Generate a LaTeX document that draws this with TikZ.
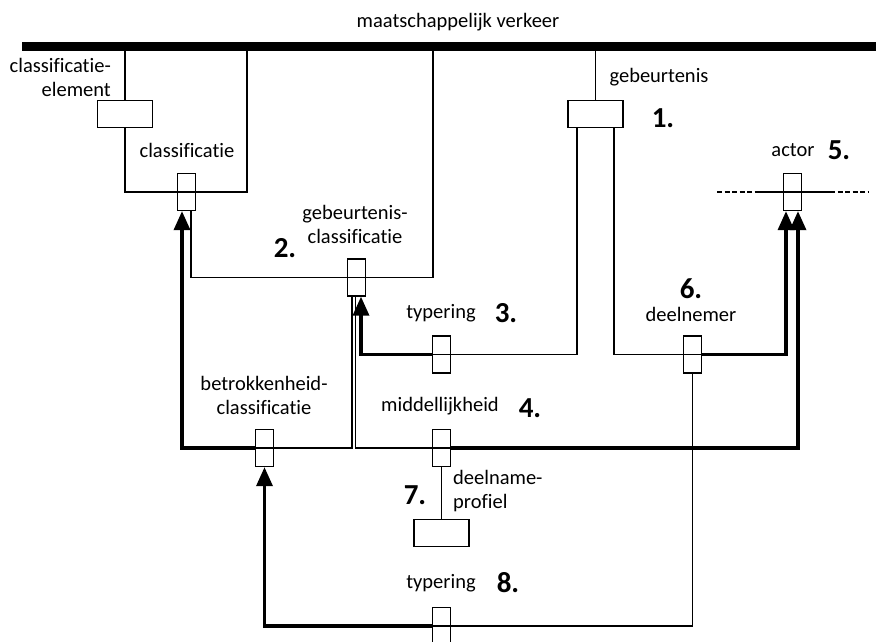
\documentclass[tikz,border=0pt]{standalone}
\usepackage{fontspec}
\setmainfont{Carlito}[Ligatures=NoCommon]
\usetikzlibrary{arrows.meta}

\begin{document}
\begin{tikzpicture}  % ------ maatschappelijk verkeer ------------------
    [x=1pt,y=-1pt,
     vbox/.style={draw, line width=1.3pt, minimum width=18.5pt, minimum height=37pt, inner sep=0pt},
     hbox/.style={draw, fill=white, line width=1.3pt, minimum width=55pt, minimum height=27pt, inner sep=0pt},
     lbl/.style={font=\fontsize{20.5}{24}\selectfont, inner sep=0pt, align=center},
     nr/.style={font=\fontsize{29}{30}\selectfont\bfseries, inner sep=0pt},
     dun/.style={line width=1.3pt},
     dik/.style={line width=3.4pt, -{Triangle[length=19pt,width=16pt]}}]
    \useasboundingbox (0,0) rectangle (876,641);
    \coordinate (barL) at (22,46.5);
    \coordinate (barR) at (876,46.5);
    \coordinate (clR) at (247,46.5);
    \coordinate (gcR) at (433,46.5);
    % boxes
    \node [hbox] (cel) at (125,114) {};
    \node [vbox] (cla) at (186.5,192) {};
    \node [hbox] (geb) at (595.5,114) {};
    \node [vbox] (act) at (792.5,192) {};
    \node [vbox] (gcl) at (356.5,277.5) {};
    \node [vbox] (typa) at (441.5,354.5) {};
    \node [vbox] (dln) at (692.5,354.5) {};
    \node [vbox] (bcl) at (264.5,448) {};
    \node [vbox] (mid) at (441.5,448) {};
    \node [hbox] (dpr) at (441.5,533) {};
    \node [vbox] (typb) at (441.5,626) {};
    % thin lines
    \draw [dun] (cel.north |- barL) -- (cel.north);
    \draw [dun] (cel.south) |- (cla.center) -| (clR);
    \draw [dun] (gcR) |- (gcl.center) -| ([xshift=4.5pt]cla.south);
    \draw [dun] (geb.north |- barL) -- (geb.north);
    \draw [dun] ([xshift=-18.5pt]geb.south) |- (typa.west);
    \draw [dun] ([xshift=18.5pt]geb.south) |- (dln.east);
    \draw [dun] (dln.south) |- (typb.west);
    \draw [dun] (bcl.west) -| ([xshift=-4.5pt]gcl.south);
    \draw [dun] (mid.east) -| ([xshift=-1pt]gcl.south);
    \draw [dun] (mid.south) -- (dpr.north);
    \coordinate (aL) at (717,192);
    \coordinate (aM) at (755,192);
    \coordinate (aN) at (830,192);
    \coordinate (aR) at (869,192);
    \draw [dun, dash pattern=on 5pt off 2.5pt] (aL) -- (aM);
    \draw [dun] (aM) -- (aN);
    \draw [dun, dash pattern=on 5pt off 2.5pt] (aN) -- (aR);
    % thick arrows
    \draw [dik] (typa.west) -| ([xshift=4.5pt]gcl.south);
    \draw [dik] (dln.east) -| ([xshift=-6.5pt]act.south);
    \draw [dik] (mid.east) -| ([xshift=5.5pt]act.south);
    \draw [dik] (bcl.west) -| ([xshift=-4.5pt]cla.south);
    \draw [dik] (typb.west) -| (bcl.south);
    \draw [line width=9pt] (barL) -- (barR);
    % labels
    \node [lbl] (tMv) at (458,22) {maatschappelijk verkeer};
    \node [lbl, anchor=east, align=right] (tCel) at (111,77) {classificatie-\\element};
    \node [lbl] (tCla) at (187,150) {classificatie};
    \node [lbl] (tGeb) at (659,77) {gebeurtenis};
    \node [nr] (n1) at (663,118) {1.};
    \node [lbl] (tAct) at (793,150) {actor};
    \node [nr] (n5) at (839,150) {5.};
    \node [lbl] (tGcl) at (355,224) {gebeurtenis-\\classificatie};
    \node [nr] (n2) at (285,248) {2.};
    \node [lbl] (tTypa) at (441,313) {typering};
    \node [nr] (n3) at (506,313) {3.};
    \node [nr] (n6) at (691,289) {6.};
    \node [lbl] (tDln) at (691,314) {deelnemer};
    \node [lbl] (tBcl) at (264,395) {betrokkenheid-\\classificatie};
    \node [lbl] (tMid) at (440,406) {middellijkheid};
    \node [nr] (n4) at (530,408) {4.};
    \node [nr] (n7) at (415,495) {7.};
    \node [lbl, anchor=west, align=left] (tDpr) at (453,491) {deelname-\\profiel};
    \node [lbl] (tTypb) at (441,583) {typering};
    \node [nr] (n8) at (508,583) {8.};
\end{tikzpicture}
\end{document}
